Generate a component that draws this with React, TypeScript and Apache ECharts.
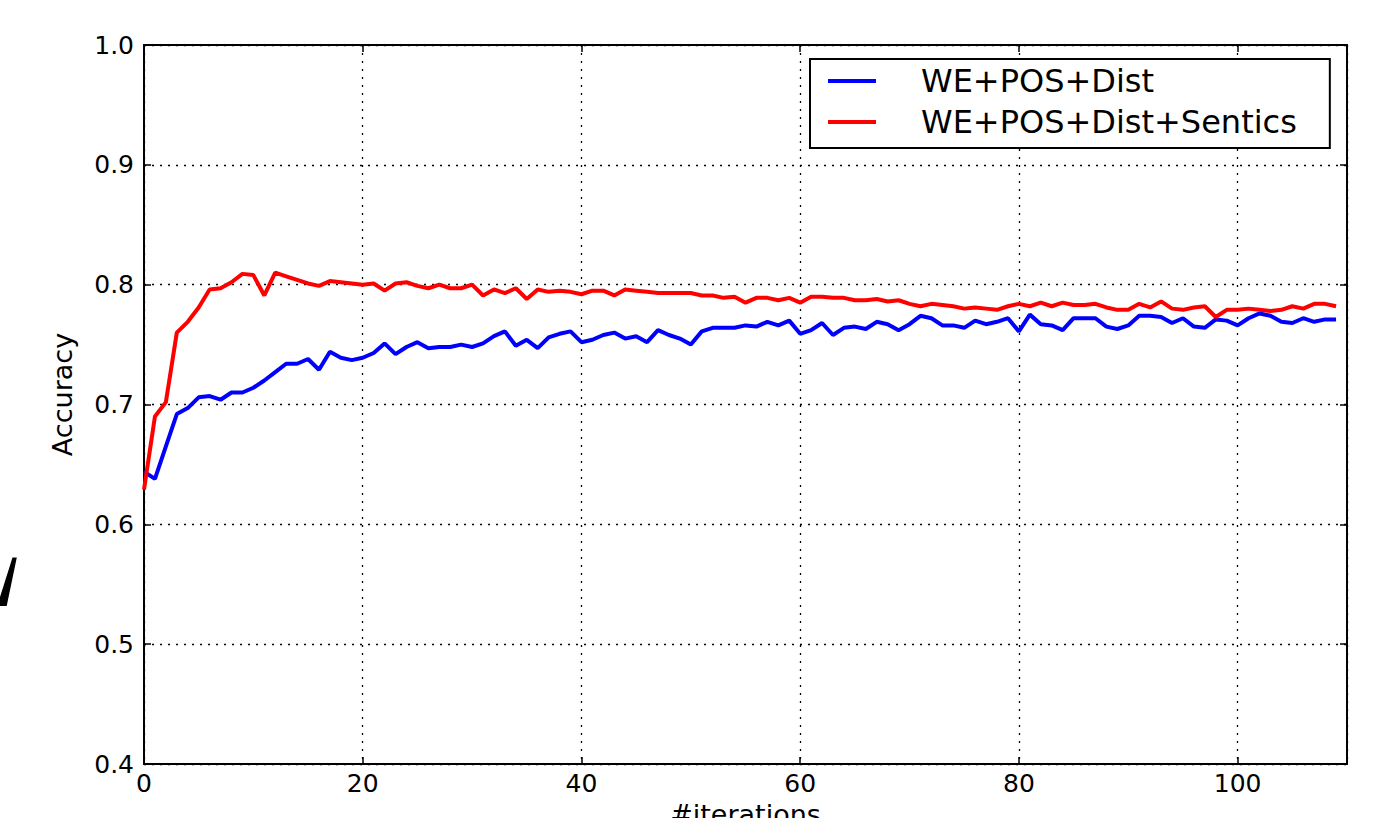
import React, { useEffect, useRef } from "react";
import * as echarts from "echarts";

const iterations: number[] = Array.from({ length: 110 }, (_, i) => i);

const weposdist: number[] = [
  0.644, 0.638, 0.665, 0.692, 0.697, 0.706, 0.707, 0.704, 0.710, 0.710,
  0.714, 0.720, 0.727, 0.734, 0.734, 0.738, 0.729, 0.744, 0.739, 0.737,
  0.739, 0.743, 0.751, 0.742, 0.748, 0.752, 0.747, 0.748, 0.748, 0.750,
  0.748, 0.751, 0.757, 0.761, 0.749, 0.754, 0.747, 0.756, 0.759, 0.761,
  0.752, 0.754, 0.758, 0.760, 0.755, 0.757, 0.752, 0.762, 0.758, 0.755,
  0.750, 0.761, 0.764, 0.764, 0.764, 0.766, 0.765, 0.769, 0.766, 0.770,
  0.759, 0.762, 0.768, 0.758, 0.764, 0.765, 0.763, 0.769, 0.767, 0.762,
  0.767, 0.774, 0.772, 0.766, 0.766, 0.764, 0.770, 0.767, 0.769, 0.772,
  0.761, 0.775, 0.767, 0.766, 0.762, 0.772, 0.772, 0.772, 0.765, 0.763,
  0.766, 0.774, 0.774, 0.773, 0.768, 0.772, 0.765, 0.764, 0.771, 0.770,
  0.766, 0.772, 0.776, 0.774, 0.769, 0.768, 0.772, 0.769, 0.771, 0.771,
];

const weposdistSentics: number[] = [
  0.629, 0.690, 0.702, 0.760, 0.769, 0.781, 0.796, 0.797, 0.802, 0.809,
  0.808, 0.791, 0.810, 0.807, 0.804, 0.801, 0.799, 0.803, 0.802, 0.801,
  0.800, 0.801, 0.795, 0.801, 0.802, 0.799, 0.797, 0.800, 0.797, 0.797,
  0.800, 0.791, 0.796, 0.793, 0.797, 0.788, 0.796, 0.794, 0.795, 0.794,
  0.792, 0.795, 0.795, 0.791, 0.796, 0.795, 0.794, 0.793, 0.793, 0.793,
  0.793, 0.791, 0.791, 0.789, 0.790, 0.785, 0.789, 0.789, 0.787, 0.789,
  0.785, 0.790, 0.790, 0.789, 0.789, 0.787, 0.787, 0.788, 0.786, 0.787,
  0.784, 0.782, 0.784, 0.783, 0.782, 0.780, 0.781, 0.780, 0.779, 0.782,
  0.784, 0.782, 0.785, 0.782, 0.785, 0.783, 0.783, 0.784, 0.781, 0.779,
  0.779, 0.784, 0.781, 0.786, 0.780, 0.779, 0.781, 0.782, 0.773, 0.779,
  0.779, 0.780, 0.779, 0.778, 0.779, 0.782, 0.780, 0.784, 0.784, 0.782,
];

const seriesNames: string[] = ["WE+POS+Dist", "WE+POS+Dist+Sentics"];
const seriesColors: string[] = ["#0000ff", "#ff0000"];
const xTicks: number[] = [0, 20, 40, 60, 80, 100];
const yTicks: number[] = [0.4, 0.5, 0.6, 0.7, 0.8, 0.9, 1.0];

const FONT = "DejaVu Sans";

export default function App() {
  const ref = useRef<HTMLDivElement>(null);

  useEffect(() => {
    if (!ref.current) return;
    const chart = echarts.init(ref.current, undefined, { renderer: "svg" });

    const frameLine = { show: true, onZero: false, lineStyle: { color: "#000", width: 2 } };
    const inTick = { show: true, inside: true, length: 7, lineStyle: { color: "#000", width: 1.5 } };
    const dotted = { show: true, lineStyle: { color: "#000", width: 1.3, type: [2, 6] as any } };

    const data = [weposdist, weposdistSentics].map((vals) =>
      iterations.map((it, i) => [it, vals[i]])
    );

    chart.setOption({
      animation: false,
      backgroundColor: "#fff",
      grid: {
        left: 144,
        right: 29,
        top: 45,
        bottom: 54,
        containLabel: false,
        outerBoundsMode: "none",
      },
      legend: {
        left: 810,
        top: 59,
        orient: "vertical",
        backgroundColor: "#fff",
        borderColor: "#000",
        borderWidth: 2,
        borderRadius: 0,
        padding: [6, 33, 10, 18],
        itemGap: 9,
        itemWidth: 48,
        itemHeight: 4,
        icon: "rect",
        data: seriesNames,
        textStyle: {
          fontFamily: FONT,
          fontSize: 32,
          color: "#000",
          lineHeight: 31,
          padding: [0, 0, 0, 40],
        },
      },
      xAxis: [
        {
          type: "value",
          min: 0,
          max: 110,
          interval: 20,
          position: "bottom",
          name: "#iterations",
          nameLocation: "middle",
          nameGap: 34,
          nameTextStyle: { fontFamily: FONT, fontSize: 27, color: "#000" },
          axisLine: frameLine,
          axisTick: inTick,
          splitLine: dotted,
          axisLabel: {
            margin: 7,
            fontFamily: FONT,
            fontSize: 25,
            color: "#000",
            formatter: (v: number) => (xTicks.includes(v) ? String(v) : ""),
          },
        },
        {
          type: "value",
          min: 0,
          max: 110,
          interval: 20,
          position: "top",
          axisLine: frameLine,
          axisTick: inTick,
          splitLine: { show: false },
          axisLabel: { show: false },
        },
      ],
      yAxis: [
        {
          type: "value",
          min: 0.4,
          max: 1.0,
          interval: 0.1,
          position: "left",
          name: "Accuracy",
          nameLocation: "middle",
          nameGap: 68,
          nameTextStyle: { fontFamily: FONT, fontSize: 27, color: "#000", padding: [0, 0, 0, 20] },
          axisLine: frameLine,
          axisTick: inTick,
          splitLine: dotted,
          axisLabel: {
            margin: 10,
            fontFamily: FONT,
            fontSize: 25,
            color: "#000",
            formatter: (v: number) => {
              const t = yTicks.find((y) => Math.abs(y - v) < 1e-6);
              return t === undefined ? "" : t.toFixed(1);
            },
          },
        },
        {
          type: "value",
          min: 0.4,
          max: 1.0,
          interval: 0.1,
          position: "right",
          axisLine: frameLine,
          axisTick: inTick,
          splitLine: { show: false },
          axisLabel: { show: false },
        },
      ],
      series: seriesNames.map((name, k) => ({
        name,
        type: "line",
        xAxisIndex: 0,
        yAxisIndex: 0,
        data: data[k],
        showSymbol: false,
        symbol: "none",
        lineStyle: { color: seriesColors[k], width: 4 },
        itemStyle: { color: seriesColors[k] },
        z: 2 + k,
      })),
      graphic: [
        {
          type: "polygon",
          shape: {
            points: [
              [12.5, 557.5],
              [16.8, 557.5],
              [6.7, 606],
              [0, 606],
              [0, 597],
            ],
          },
          style: { fill: "#000" },
        },
      ],
    });

    return () => chart.dispose();
  }, []);

  return (
    <div
      ref={ref}
      style={{ position: "fixed", left: 0, top: 0, width: 1376, height: 818, background: "#fff" }}
    />
  );
}
